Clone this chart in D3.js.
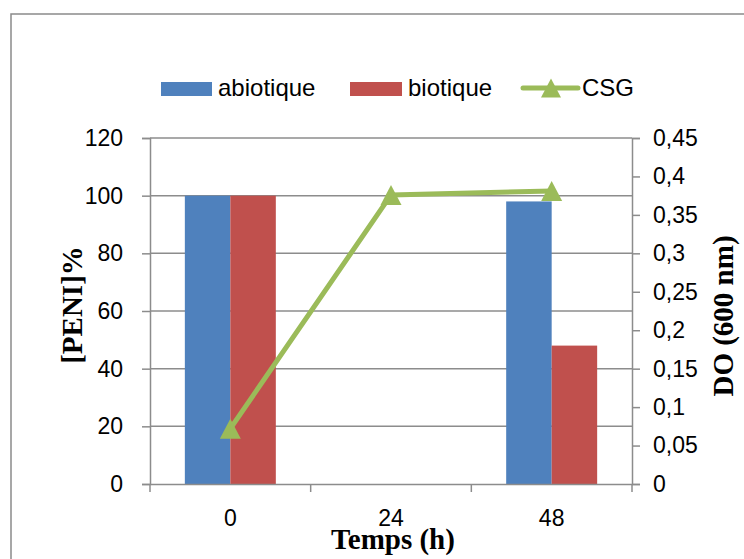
<!DOCTYPE html>
<html>
<head>
<meta charset="utf-8">
<script src="https://cdn.jsdelivr.net/npm/d3@7"></script>
<style>
  html, body { margin: 0; padding: 0; background: #fff; }
  svg { display: block; }
  .tick-label { font-family: "Liberation Sans", Arial, sans-serif; font-size: 23px; fill: #000; }
  .legend-label { font-family: "Liberation Sans", Arial, sans-serif; font-size: 24px; fill: #000; }
  .axis-title { font-family: "Liberation Serif", "Times New Roman", serif; font-size: 29px; font-weight: bold; fill: #000; }
</style>
</head>
<body>
<script>
// Sampling times (h) and measured series
const categories = ["0", "24", "48"];
const seriesNames = ["abiotique", "biotique"];
const abiotique = [100, null, 98];
const biotique = [100, null, 48];
const csg = [0.072, 0.376, 0.381];

// Axis ticks
const leftTicks = [0, 20, 40, 60, 80, 100, 120];
const rightTicks = [0, 0.05, 0.1, 0.15, 0.2, 0.25, 0.3, 0.35, 0.4, 0.45];

const W = 744, H = 559;
const colors = { abiotique: "#4F81BD", biotique: "#C0504D", CSG: "#9BBB59" };
const axisGray = "#8C8C8C";

const svg = d3.select("body").append("svg").attr("width", W).attr("height", H);

// outer chart frame
svg.append("rect")
  .attr("x", 11).attr("y", 14).attr("width", 760).attr("height", 600)
  .attr("fill", "#fff").attr("stroke", "#8A8A8A").attr("stroke-width", 1.5);

const plot = { left: 150, right: 632, top: 138, bottom: 484 };

const x = d3.scaleBand().domain(categories).range([plot.left, plot.right]).paddingInner(0).paddingOuter(0);
const xSeries = d3.scaleBand().domain(seriesNames).range([0, x.bandwidth()]).paddingInner(0).paddingOuter(0.766);
const yLeft = d3.scaleLinear().domain([0, 120]).range([plot.bottom, plot.top]);
const yRight = d3.scaleLinear().domain([0, 0.45]).range([plot.bottom, plot.top]);

const commaLocale = d3.formatLocale({ decimal: ",", thousands: " ", grouping: [3], currency: ["", " €"] });
const fmtRight = commaLocale.format(".2~f");

// horizontal gridlines
svg.append("g").selectAll("line").data(leftTicks.filter(d => d > 0)).join("line")
  .attr("x1", plot.left).attr("x2", plot.right)
  .attr("y1", d => yLeft(d)).attr("y2", d => yLeft(d))
  .attr("stroke", axisGray).attr("stroke-width", 1.5);

// bars
const barData = [];
categories.forEach((c, i) => {
  barData.push({ cat: c, series: "abiotique", value: abiotique[i] });
  barData.push({ cat: c, series: "biotique", value: biotique[i] });
});
svg.append("g").selectAll("rect").data(barData.filter(d => d.value != null)).join("rect")
  .attr("x", d => x(d.cat) + xSeries(d.series))
  .attr("width", xSeries.bandwidth())
  .attr("y", d => yLeft(d.value))
  .attr("height", d => yLeft(0) - yLeft(d.value))
  .attr("fill", d => colors[d.series]);

// left axis
const gLeft = svg.append("g").attr("transform", `translate(${plot.left},0)`)
  .call(d3.axisLeft(yLeft).tickValues(leftTicks).tickSize(8).tickPadding(19).tickFormat(d3.format("d")));
gLeft.selectAll(".tick text").attr("class", "tick-label").attr("font-family", null).attr("font-size", null);

// right axis
const gRight = svg.append("g").attr("transform", `translate(${plot.right},0)`)
  .call(d3.axisRight(yRight).tickValues(rightTicks).tickSize(8).tickPadding(13).tickFormat(fmtRight));
gRight.selectAll(".tick text").attr("class", "tick-label").attr("font-family", null).attr("font-size", null);

// bottom axis: boundary ticks with centred category labels
const gBottom = svg.append("g").attr("transform", `translate(0,${plot.bottom})`)
  .call(d3.axisBottom(x).tickSize(0).tickPadding(26));
gBottom.selectAll(".tick text").attr("class", "tick-label").attr("font-family", null).attr("font-size", null);
const boundaries = categories.map(c => x(c)).concat([x(categories[categories.length - 1]) + x.bandwidth()]);
gBottom.append("g").selectAll("line").data(boundaries).join("line")
  .attr("x1", d => d).attr("x2", d => d).attr("y1", 0).attr("y2", 8)
  .attr("stroke", axisGray).attr("stroke-width", 1.5);

[gLeft, gRight, gBottom].forEach(g => {
  g.select(".domain").attr("stroke", axisGray).attr("stroke-width", 1.5);
  g.selectAll(".tick line").attr("stroke", axisGray).attr("stroke-width", 1.5);
});

// CSG line with triangle markers
const cx = d => x(d.cat) + x.bandwidth() / 2;
const csgPts = categories.map((c, i) => ({ cat: c, value: csg[i] }));
svg.append("path").datum(csgPts)
  .attr("d", d3.line().x(cx).y(d => yRight(d.value)))
  .attr("fill", "none").attr("stroke", colors.CSG).attr("stroke-width", 5).attr("stroke-linejoin", "round");
const tri = (px, py, w, h) => `M${px},${py - h / 2}L${px + w / 2},${py + h / 2}L${px - w / 2},${py + h / 2}Z`;
svg.append("g").selectAll("path").data(csgPts).join("path")
  .attr("d", d => tri(cx(d), yRight(d.value), 21, 20))
  .attr("fill", colors.CSG);

// legend
const lg = svg.append("g");
lg.append("rect").attr("x", 161).attr("y", 82).attr("width", 51).attr("height", 14).attr("fill", colors.abiotique);
lg.append("text").attr("class", "legend-label").attr("x", 218).attr("y", 96).text("abiotique");
lg.append("rect").attr("x", 350).attr("y", 82).attr("width", 52).attr("height", 14).attr("fill", colors.biotique);
lg.append("text").attr("class", "legend-label").attr("x", 408).attr("y", 96).text("biotique");
lg.append("line").attr("x1", 523).attr("x2", 578).attr("y1", 88).attr("y2", 88)
  .attr("stroke", colors.CSG).attr("stroke-width", 5).attr("stroke-linecap", "round");
lg.append("path").attr("d", tri(551, 88, 20, 19)).attr("fill", colors.CSG);
lg.append("text").attr("class", "legend-label").attr("x", 582).attr("y", 96).text("CSG");

// axis titles
svg.append("text").attr("class", "axis-title")
  .attr("transform", `translate(82,305) rotate(-90)`).attr("text-anchor", "middle").text("[PENI]%");
svg.append("text").attr("class", "axis-title")
  .attr("transform", `translate(733,316) rotate(-90)`).attr("text-anchor", "middle").text("DO (600 nm)");
svg.append("text").attr("class", "axis-title")
  .attr("x", 393).attr("y", 549).attr("text-anchor", "middle").text("Temps (h)");
</script>
</body>
</html>
